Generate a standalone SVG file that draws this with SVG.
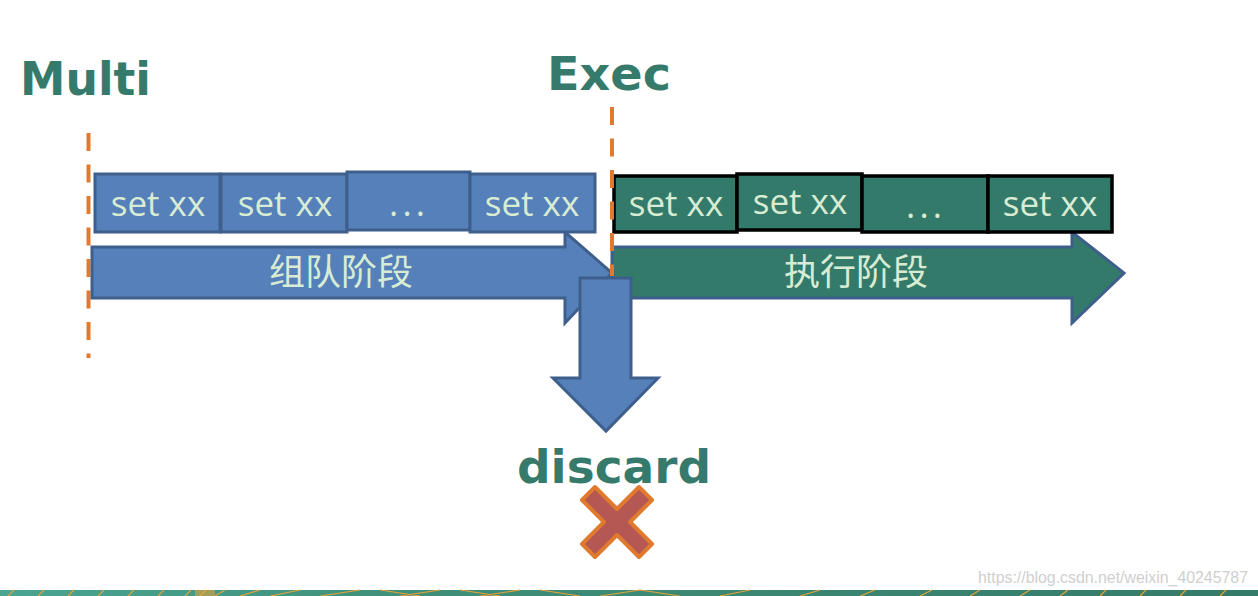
<svg xmlns="http://www.w3.org/2000/svg" width="1258" height="596" viewBox="0 0 1258 596">
<defs>
<style>
.title{font-family:"DejaVu Sans",sans-serif;font-weight:bold;fill:#357a6b;font-size:47px}
.lbl{font-family:"Open Sans","Noto Sans",sans-serif;fill:#d8ecd4;font-size:35px;text-anchor:middle}
.zh{font-family:"Noto Sans CJK SC",sans-serif;fill:#d8ecd4;font-size:36px;text-anchor:middle}
.bbox{fill:#5680b9;stroke:#3e5f8b;stroke-width:3}
.gbox{fill:#337a6a;stroke:#000;stroke-width:3.5}
.dash{stroke:#e07a2e;stroke-width:4;stroke-dasharray:18 13.5;fill:none}
</style>
<linearGradient id="band" x1="0" y1="0" x2="1" y2="0">
<stop offset="0" stop-color="#4aa592"/>
<stop offset="0.35" stop-color="#3f8e78"/>
<stop offset="1" stop-color="#357b6a"/>
</linearGradient>
</defs>
<rect width="1258" height="596" fill="#fff"/>

<g id="multi-label"><text class="title" x="20" y="95" textLength="131" lengthAdjust="spacingAndGlyphs">Multi</text></g>
<g id="exec-label"><text class="title" x="547" y="90" textLength="124" lengthAdjust="spacingAndGlyphs">Exec</text></g>

<g id="connectors">
<line class="dash" x1="88.5" y1="133" x2="88.5" y2="358"/>
</g>

<g id="queue-arrow">
<polygon class="bbox" points="92,247 565,247 565,232 612,273 565,323 565,298 92,298"/>
<text class="zh" x="341" y="285">组队阶段</text>
</g>
<g id="exec-arrow">
<polygon class="bbox" style="fill:#347a6a" points="612,247 1072,247 1072,232 1124,273 1072,323 1072,298 612,298"/>
<text class="zh" x="856" y="285">执行阶段</text>
</g>

<g id="queue-cmds">
<rect class="bbox" x="95" y="174" width="125" height="58"/>
<text class="lbl" x="158" y="216">set xx</text>
<rect class="bbox" x="221" y="174" width="126" height="58"/>
<text class="lbl" x="285" y="216">set xx</text>
<rect class="bbox" x="347" y="172" width="123" height="58"/>
<text class="lbl" x="407" y="216" textLength="36" lengthAdjust="spacing">. . .</text>
<rect class="bbox" x="470" y="174" width="125" height="58"/>
<text class="lbl" x="532" y="216">set xx</text>
</g>

<g id="exec-cmds">
<rect class="gbox" x="614" y="176" width="123" height="56"/>
<text class="lbl" x="676" y="216">set xx</text>
<rect class="gbox" x="737" y="174" width="125" height="56"/>
<text class="lbl" x="800" y="214">set xx</text>
<rect class="gbox" x="862" y="176" width="126" height="56"/>
<text class="lbl" x="924" y="218" textLength="36" lengthAdjust="spacing">. . .</text>
<rect class="gbox" x="988" y="176" width="124" height="56"/>
<text class="lbl" x="1050" y="216">set xx</text>
</g>

<g id="exec-line">
<line class="dash" x1="612" y1="107" x2="612" y2="276"/>
</g>

<g id="discard-arrow">
<polygon class="bbox" points="580,278 631,278 631,378 658,378 606,431 553,378 580,378"/>
</g>

<g id="discard-label"><text class="title" x="614" y="483" text-anchor="middle">discard</text></g>

<g id="discard-mark">
<polygon fill="#b55752" stroke="#e07a2e" stroke-width="4" stroke-linejoin="round" points="595,487 617,509 639,487 652,500 630,522 652,544 639,557 617,535 595,557 582,544 604,522 582,500"/>
</g>

<g id="band">
<rect x="0" y="590" width="1258" height="6" fill="url(#band)"/>
<g stroke="#e5a23a" stroke-width="1.2">
<path d="M8,596 L14,590 M38,596 L44,590 M68,596 L74,590 M98,596 L104,590 M128,596 L134,590 M158,596 L164,590 M185,596 L191,590 M200,596 L206,590 M215,596 L225,590 M240,596 L260,590 M270,596 L300,590 M320,596 L360,590 M380,590 L420,596 M400,596 L440,590 M460,590 L500,596 M480,596 L520,590 M540,590 L580,596 M600,596 L640,590 M640,590 L680,596 M720,596 L750,590 M800,596 L820,590 M860,596 L875,590 M920,596 L932,590 M970,596 L980,590 M1020,596 L1030,590 M1060,596 L1068,590 M1100,596 L1106,590 M1140,596 L1146,590 M1180,596 L1186,590 M1220,596 L1226,590"/>
</g>
<rect x="195" y="590" width="20" height="6" fill="#e5a23a" opacity="0.6"/>
</g>

<g id="watermark"><text x="978" y="583" font-family="Liberation Sans Narrow,Liberation Sans,sans-serif" font-size="16" fill="#cfcfcf" textLength="270" lengthAdjust="spacingAndGlyphs">https://blog.csdn.net/weixin_40245787</text></g>
</svg>
